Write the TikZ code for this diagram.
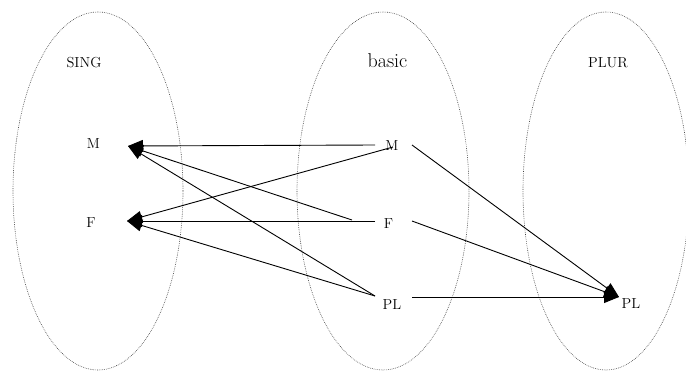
\documentclass[tikz,border=0pt]{standalone}
\usetikzlibrary{arrows.meta}
\begin{document}
\begin{tikzpicture}[x=1pt,y=-1pt,
  setell/.style={draw=black!75,line width=0.6pt,dash pattern=on 0.7pt off 1.1pt},
  lab/.style={inner sep=0pt,anchor=base,font=\fontsize{14.5}{16}\selectfont},
  big/.style={inner sep=0pt,anchor=base,font=\fontsize{20}{22}\selectfont},
  arr/.style={line width=0.9pt,-{Triangle[length=15pt,width=12pt]}}]
\useasboundingbox (0,0) rectangle (686,372);
% sets
\draw[setell] (98,191) ellipse [x radius=85,y radius=179];
\draw[setell] (383,191) ellipse [x radius=86,y radius=179];
\draw[setell] (606,191) ellipse [x radius=83,y radius=179];
% titles
\node[lab] (sing) at (84,67) {SING};
\node[big] (basic) at (387.5,67) {basic};
\node[lab] (plur) at (608,67) {PLUR};
% labels
\node[lab] (sM) at (93.5,148) {M};
\node[lab] (sF) at (91,227) {F};
\node[lab] (bM) at (392,150) {M};
\node[lab] (bF) at (388.5,228) {F};
\node[lab] (bPL) at (392,309) {PL};
\node[lab] (pPL) at (631,308) {PL};
% connector ends
\coordinate (sMt) at (128,146);
\coordinate (sFt) at (127,221);
\coordinate (pPLt) at (619,297);
\coordinate (bMl) at (375,145);
\coordinate (bMd) at (393,147);
\coordinate (bMr) at (412,145);
\coordinate (bFl) at (375,221);
\coordinate (bFd) at (352,220);
\coordinate (bFr) at (412,221);
\coordinate (bPLl) at (375,296);
\coordinate (bPLr) at (412,297);
% connectors
\draw[arr] (bMl) -- (sMt);
\draw[arr] (bMd) -- (sFt);
\draw[arr] (bFl) -- (sFt);
\draw[arr] (bFd) -- (sMt);
\draw[arr] (bPLl) -- (sMt);
\draw[arr] (bPLl) -- (sFt);
\draw[arr] (bMr) -- (pPLt);
\draw[arr] (bFr) -- (pPLt);
\draw[arr] (bPLr) -- (pPLt);
\end{tikzpicture}
\end{document}
